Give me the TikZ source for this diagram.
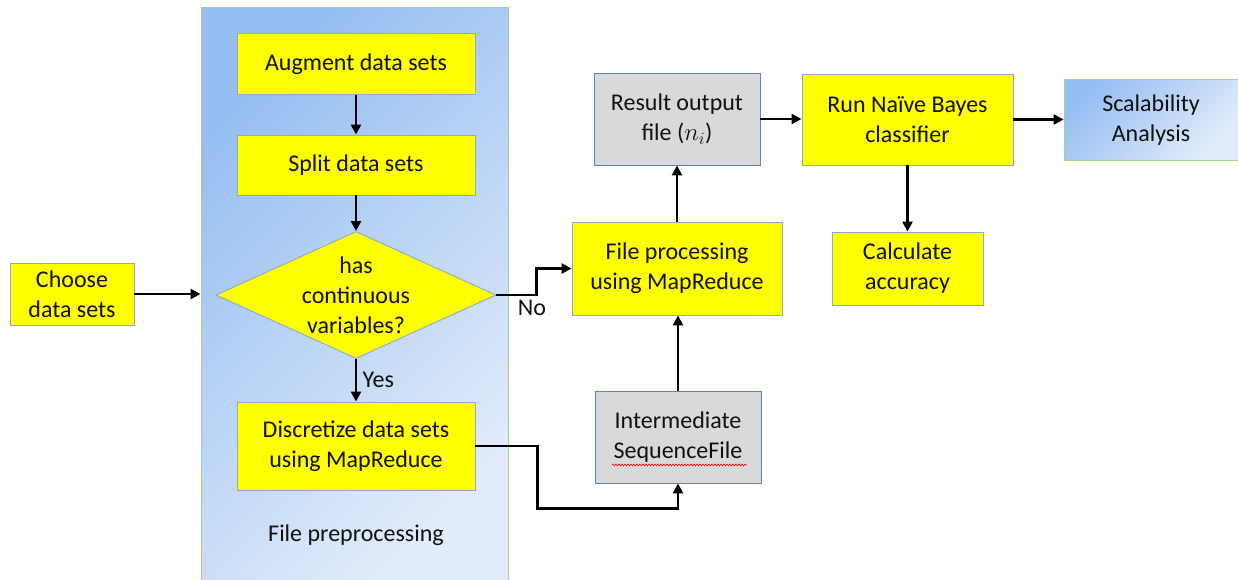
\documentclass[tikz,border=0pt]{standalone}
\usepackage{fontspec}
\setmainfont{Carlito}
\usetikzlibrary{arrows.meta,shapes.geometric,calc,decorations.pathmorphing}
\definecolor{ybox}{HTML}{FFFF00}
\definecolor{ybord}{HTML}{8FAACC}
\definecolor{gfill}{HTML}{D9D9D9}
\definecolor{gbord}{HTML}{5E86B5}
\definecolor{blA}{HTML}{96BEF2}
\definecolor{blB}{HTML}{E2ECFA}
\definecolor{grn}{HTML}{A9D18E}
\definecolor{txt}{HTML}{111111}
\begin{document}
\begin{tikzpicture}[x=1pt,y=-1pt,
  every node/.style={font=\fontsize{24}{30}\selectfont, text=txt},
  box/.style={draw=ybord, line width=0.9pt, fill=ybox, align=center, inner sep=0pt},
  gbox/.style={draw=gbord, line width=0.9pt, fill=gfill, align=center, inner sep=0pt},
  arr/.style={line width=2.8pt, -{Triangle[length=10pt,width=10pt]}},
  bluegrad/.style={draw=grn, line width=1pt, top color=blA, bottom color=blB, shading angle=45, inner sep=0pt, align=center}
]
\useasboundingbox (0,0) rectangle (1238,580);
% panel
\node[bluegrad, minimum width=307pt, minimum height=576pt] (panel) at (354.5,295.5) {};
\node (fpre) at (356,535) {File preprocessing};
% nodes
\node[box, minimum width=124pt, minimum height=62pt] (choose) at (72,294) {Choose\\data sets};
\node[box, minimum width=238pt, minimum height=61pt] (aug) at (356,64) {Augment data sets};
\node[box, minimum width=238pt, minimum height=60pt] (split) at (356,165) {Split data sets};
\node[diamond, draw=ybord, line width=0.9pt, fill=ybox, minimum width=280pt, minimum height=127pt, inner sep=0pt] (dia) at (356,295) {};
\node[align=center] (diatext) at (356,295) {has\\continuous\\variables?};
\node[box, minimum width=238pt, minimum height=88pt] (disc) at (356,446) {Discretize data sets\\using MapReduce};
\node[gbox, minimum width=166pt, minimum height=92pt] (res) at (677,119) {Result output\\file ($n_i$)};
\node[box, minimum width=210pt, minimum height=93pt] (fp) at (677,268.5) {File processing\\using MapReduce};
\node[gbox, minimum width=166pt, minimum height=92pt] (inter) at (678,437) {Intermediate\\SequenceFile};
\node[box, minimum width=211pt, minimum height=91pt] (nb) at (907.5,119.5) {Run Naïve Bayes\\classifier};
\node[box, minimum width=151pt, minimum height=73pt] (calc) at (907.5,268.5) {Calculate\\accuracy};
\node[bluegrad, minimum width=174pt, minimum height=81pt] (scal) at (1151,120.5) {Scalability\\Analysis};
% spell-check squiggle
\draw[red, line width=0.6pt, decorate, decoration={snake, amplitude=0.9pt, segment length=3pt}]
  ($(inter.center)+(-66,28)$) -- ($(inter.center)+(69,28)$);
% connectors
\draw[arr] (choose.east) -- (choose.east -| panel.west);
\draw[arr] (aug) -- (split);
\draw[arr] (split) -- (dia.north);
\draw[arr] (dia.south) -- node[right, xshift=2pt] (yes) {Yes} (disc.north);
\draw[arr] (dia.east) -- ++(40,0) coordinate (nobend) |- (fp.west);
\node (no) at (532,308) {No};
\draw[arr] (disc.east) -- ++(62,0) |- ($(inter.south)+(0,25)$) -- (inter.south);
\draw[arr] (inter.north) -- (inter.north |- fp.south);
\draw[arr] (fp.north) -- (fp.north |- res.south);
\draw[arr] (res.east) -- (res.east -| nb.west);
\draw[arr] (nb.east) -- (nb.east -| scal.west);
\draw[arr] (nb.south) -- (calc.north);
\end{tikzpicture}
\end{document}
